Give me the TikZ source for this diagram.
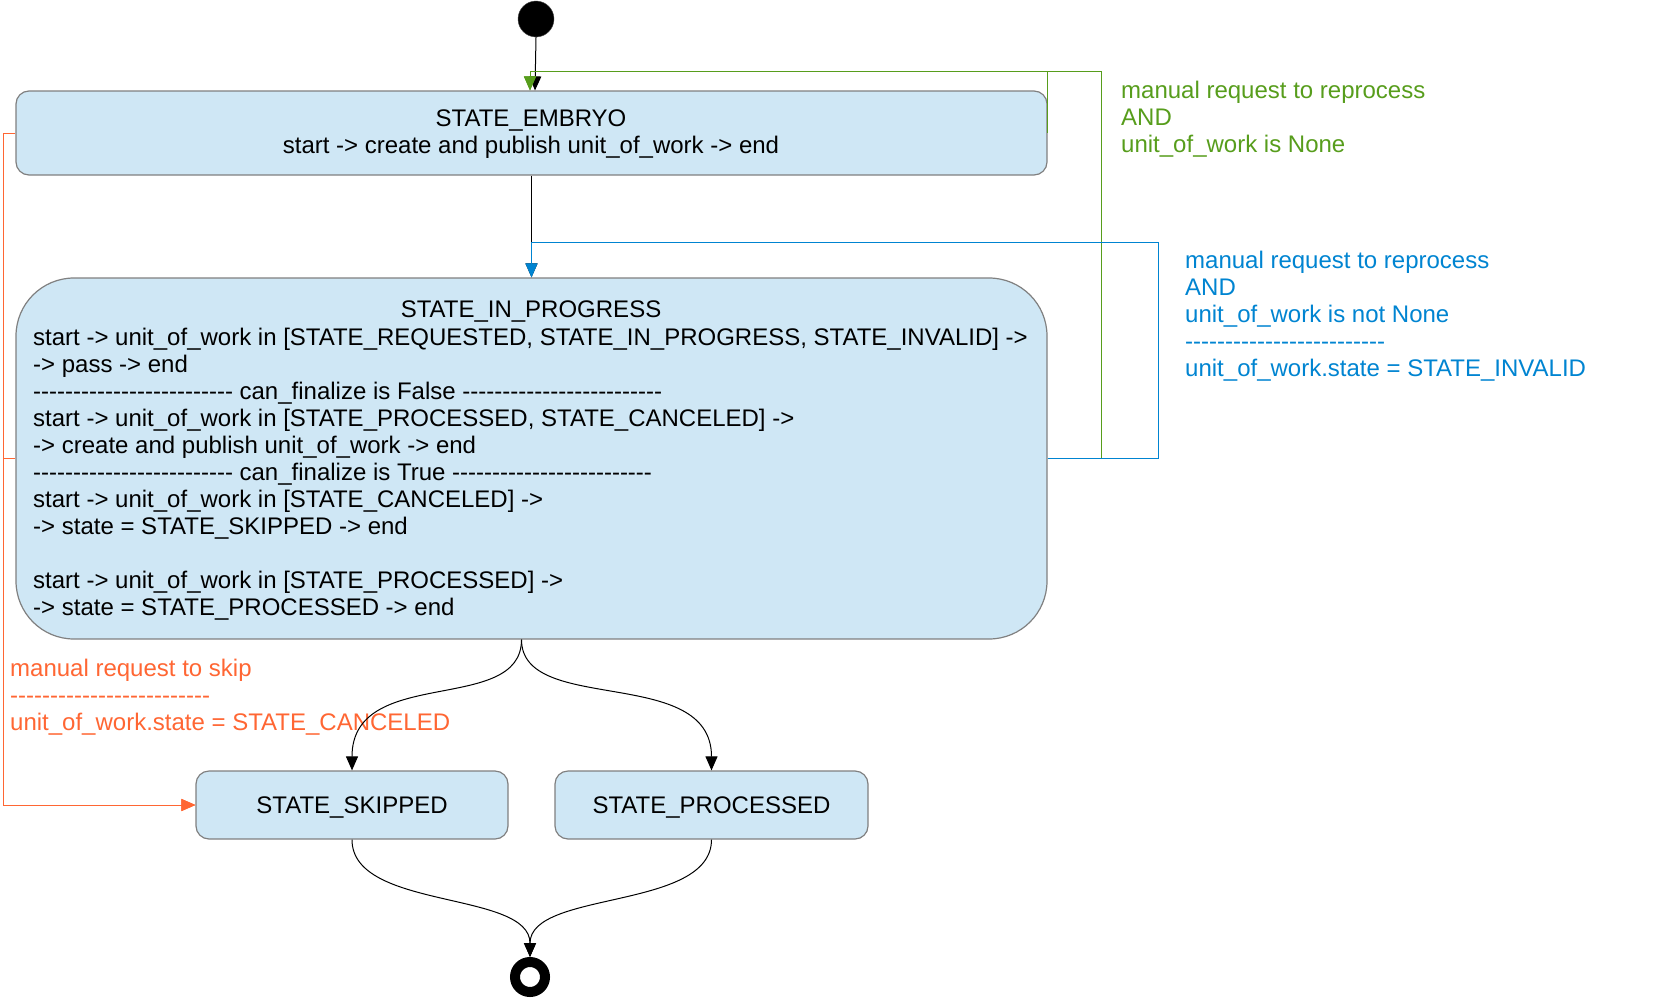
\documentclass[tikz,border=0pt]{standalone}
\usepackage{fontspec}
\setmainfont{Liberation Sans}
\usetikzlibrary{arrows.meta,calc}
\definecolor{boxfill}{RGB}{207,231,245}
\definecolor{boxline}{RGB}{128,128,128}
\definecolor{lgreen}{RGB}{87,157,28}
\definecolor{lblue}{RGB}{0,132,209}
\definecolor{lred}{RGB}{255,102,51}
\newcommand\dashrow{-{}-{}-{}-{}-{}-{}-{}-{}-{}-{}-{}-{}-{}-{}-{}-{}-{}-{}-{}-{}-{}-{}-{}-{}-{}}
\newcommand\bigfont{\fontsize{24}{27}\selectfont}
\newcommand\topstrut{\rule{0pt}{20pt}}
\tikzset{
  statebox/.style={draw=boxline, fill=boxfill, line width=1.2pt, inner sep=0pt},
  lbl/.style={font=\bigfont, align=left, inner sep=0pt},
  arr/.style={line width=1pt, -{Triangle[width=12pt,length=14pt]}},
}
\begin{document}
\begin{tikzpicture}[x=1pt,y=-1pt]
\useasboundingbox (0,0) rectangle (1661,998);

% states
\node[circle, fill=black, draw=black!70, minimum size=36pt, inner sep=0pt] (start) at (536,19) {};
\node[statebox, minimum width=1031pt, minimum height=84pt, rounded corners=13pt] (embryo) at (531.5,133) {};
\node[font=\bigfont, align=center, inner sep=0pt, anchor=north] (embryotext) at (531,106.5)
  {\topstrut STATE\_EMBRYO\\start -> create and publish unit\_of\_work -> end};

\node[statebox, minimum width=1031pt, minimum height=361pt, rounded corners=58pt] (inprog) at (531.5,458.5) {};
\node[font=\bigfont, inner sep=0pt, anchor=base] (iptitle) at (531,317.5) {STATE\_IN\_PROGRESS};
\node[lbl, anchor=north west] (ipbody) at (33,325.5)
  {\topstrut start -> unit\_of\_work in [STATE\_REQUESTED, STATE\_IN\_PROGRESS, STATE\_INVALID] ->\\
   -> pass -> end\\
   \dashrow{} can\_finalize is False \dashrow\\
   start -> unit\_of\_work in [STATE\_PROCESSED, STATE\_CANCELED] ->\\
   -> create and publish unit\_of\_work -> end\\
   \dashrow{} can\_finalize is True \dashrow\\
   start -> unit\_of\_work in [STATE\_CANCELED] ->\\
   -> state = STATE\_SKIPPED -> end\\
   \mbox{}\\
   start -> unit\_of\_work in [STATE\_PROCESSED] ->\\
   -> state = STATE\_PROCESSED -> end};

\node[statebox, minimum width=312pt, minimum height=68pt, rounded corners=13pt, font=\bigfont, text height=17pt, text depth=0pt] (skipped) at (352,805) {STATE\_SKIPPED};
\node[statebox, minimum width=313pt, minimum height=68pt, rounded corners=13pt, font=\bigfont, text height=17pt, text depth=0pt] (processed) at (711.5,805) {STATE\_PROCESSED};

\node[circle, draw=black, line width=10pt, fill=white, minimum size=30pt, inner sep=0pt] (final) at (530,977) {};

% labels
\node[lbl, text=lgreen, anchor=north west] (glabel) at (1121,78.5)
  {\topstrut manual request to reprocess\\AND\\unit\_of\_work is None};
\node[lbl, text=lblue, anchor=north west] (blabel) at (1185,248.5)
  {\topstrut manual request to reprocess\\AND\\unit\_of\_work is not None\\\dashrow\\unit\_of\_work.state = STATE\_INVALID};
\node[lbl, text=lred, anchor=north west] (rlabel) at (10,656.5)
  {\topstrut manual request to skip\\\dashrow\\unit\_of\_work.state = STATE\_CANCELED};

% connectors
\draw[arr] (start.south) -- ($(embryo.north)+(3.5,0)$);
\draw[arr] (embryo.south) -- (inprog.north);
\draw[arr, lgreen] (embryo.east) -- ($(embryo.north east)+(0,-19)$) -| ($(embryo.north)+(-1.5,0)$);
\draw[arr, lgreen] (inprog.east) -- ++(54,0) |- ($(embryo.north)+(-1.5,-19)$) -- ($(embryo.north)+(-1.5,0)$);
\draw[arr, lblue] (inprog.east) -- ++(111,0) |- ($(inprog.north)+(0,-35)$) -- (inprog.north);
\draw[arr, lred] (embryo.west) -- ++(-12,0) |- (skipped.west);
\draw[arr, lred] (inprog.west) -- ++(-12,0) |- (skipped.west);

\draw[arr] ($(inprog.south)+(-10,0)$) .. controls +(0,76) and +(0,-106) .. (skipped.north);
\draw[arr] ($(inprog.south)+(-10,0)$) .. controls +(0,76) and +(0,-106) .. (processed.north);
\draw[arr] (skipped.south) .. controls +(0,71) and +(0,-67) .. (final.north);
\draw[arr] (processed.south) .. controls +(0,71) and +(0,-67) .. (final.north);
\end{tikzpicture}
\end{document}
